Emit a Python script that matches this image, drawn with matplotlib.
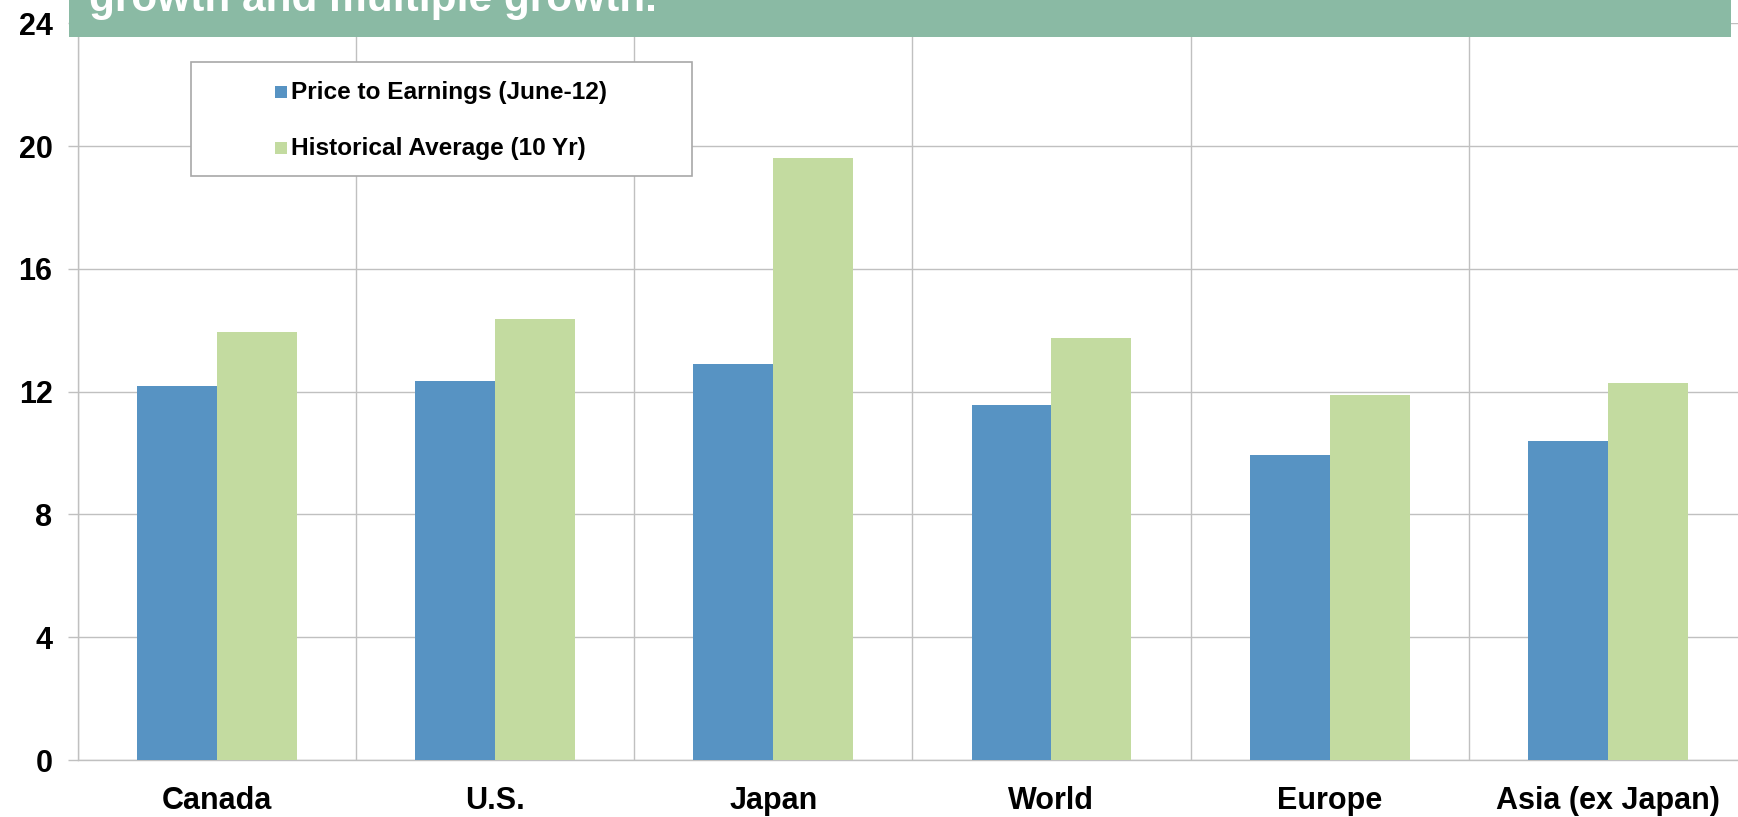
import matplotlib
matplotlib.use("Agg")
import matplotlib.pyplot as plt
import numpy as np
from matplotlib.patches import Rectangle

plt.rcParams["font.family"] = ["Liberation Sans", "DejaVu Sans"]
plt.rcParams["font.weight"] = "bold"

regions = ["Canada", "U.S.", "Japan", "World", "Europe", "Asia (ex Japan)"]
pe_june12 = [12.17, 12.35, 12.89, 11.55, 9.93, 10.40]
hist_avg_10yr = [13.94, 14.37, 19.60, 13.75, 11.88, 12.27]
series_labels = ["Price to Earnings (June-12)", "Historical Average (10 Yr)"]
yticks = [0, 4, 8, 12, 16, 20, 24]
banner_text = "growth and multiple growth."

BLUE = "#5793C3"
GREEN = "#C3DBA0"
BANNER = "#8ABAA4"
GRID = "#C0C0C0"

W, H = 1738, 817


def fx(px):
    return px / W


def fy(py):
    # py measured from the top of the image
    return 1 - py / H


fig = plt.figure(figsize=(W / 100, H / 100), dpi=100)
fig.patch.set_facecolor("white")
ax = fig.add_axes([fx(77.6), fy(760), fx(1747 - 77.6), (760 - 23.2) / H])

x = np.arange(len(regions))
bw = 0.287
ax.bar(x - bw / 2, pe_june12, width=bw, color=BLUE, zorder=3)
ax.bar(x + bw / 2, hist_avg_10yr, width=bw, color=GREEN, zorder=3)

ax.set_xlim(-0.5, len(regions) - 0.5)
ax.set_ylim(0, 24)
ax.set_yticks(yticks)
ax.set_yticklabels([str(t) for t in yticks], fontsize=22, fontweight="bold")
ax.set_xticks(x)
ax.set_xticklabels(regions, fontsize=22, fontweight="bold")
ax.set_xticks(np.arange(len(regions) + 1) - 0.5, minor=True)
ax.tick_params(axis="x", which="both", length=0, pad=19)
ax.tick_params(axis="y", which="major", length=7, width=1, color=GRID,
               direction="out", pad=11)
ax.grid(axis="y", which="major", color=GRID, linewidth=1, zorder=0)
ax.grid(axis="x", which="minor", color=GRID, linewidth=1, zorder=0)
ax.set_axisbelow(True)
for side in ["top", "right"]:
    ax.spines[side].set_visible(False)
for side in ["left", "bottom"]:
    ax.spines[side].set_color(GRID)
    ax.spines[side].set_linewidth(1)

# green title banner, text cut off at the top edge
fig.add_artist(Rectangle((fx(69), fy(37)), fx(1731 - 69), 40 / H,
                         transform=fig.transFigure, facecolor=BANNER,
                         edgecolor="none", zorder=5))
fig.text(fx(89), fy(11), banner_text, color="white", fontsize=30.5,
         fontweight="bold", va="baseline", ha="left", zorder=6)

# legend box
fig.add_artist(Rectangle((fx(191), fy(176)), fx(692 - 191), (176 - 62) / H,
                         transform=fig.transFigure, facecolor="white",
                         edgecolor="#A8A8A8", linewidth=1.2, zorder=5))
for i, (lab, col) in enumerate(zip(series_labels, [BLUE, GREEN])):
    yc = 92 + 56 * i
    fig.add_artist(Rectangle((fx(275), fy(yc + 6)), fx(12), 12 / H,
                             transform=fig.transFigure, facecolor=col,
                             edgecolor="none", zorder=6))
    fig.text(fx(291), fy(yc), lab, fontsize=17.6, fontweight="bold",
             va="center", ha="left", zorder=6)

fig.savefig("out.png", dpi=100, facecolor="white")
